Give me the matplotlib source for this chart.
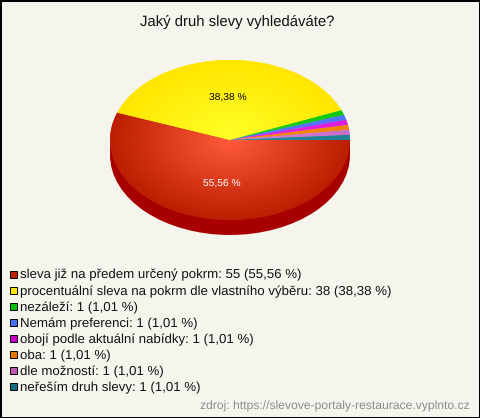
import numpy as np
from matplotlib import pyplot as plt
from matplotlib.colors import LinearSegmentedColormap
from matplotlib.patches import Rectangle, Wedge

plt.rcParams['font.family'] = ['Liberation Sans', 'DejaVu Sans']
plt.rcParams['text.hinting'] = 'no_hinting'

title = 'Jaký druh slevy vyhledáváte?'
source = 'zdroj: https://slevove-portaly-restaurace.vyplnto.cz'
labels = ['sleva již na předem určený pokrm', 'procentuální sleva na pokrm dle vlastního výběru',
          'nezáleží', 'Nemám preferenci', 'obojí podle aktuální nabídky', 'oba',
          'dle možností', 'neřeším druh slevy']
values = [55, 38, 1, 1, 1, 1, 1, 1]
shares = ['55,56', '38,38', '1,01', '1,01', '1,01', '1,01', '1,01', '1,01']

# barva uprostřed a na okraji výseče
inner = ['#ff5a3c', '#ffff28', '#1ed21e', '#5a78ff', '#e628e6', '#fa8c0a', '#d282d2', '#288c9b']
outer = ['#bb1e00', '#ffe600', '#0fc80f', '#5073ff', '#dc1edc', '#f08205', '#c86ec8', '#1e8296']
swatch = ['#be2000', '#ffe600', '#00be00', '#466ef0', '#c800c8', '#e67800', '#be5ab4', '#146e82']
side = '#a80000'
paper = '#f5f5ee'

W, H = 480, 418
cx, cy, rx, ry, depth = 230, 140, 120, 80, 15

fig = plt.figure(figsize=(W/100, H/100), dpi=100, facecolor=paper)
ax = fig.add_axes([0, 0, 1, 1])
limits = (-cx/rx, (W-cx)/rx), ((cy-H)/ry, cy/ry)


def popisek(pct):
    return f'{pct:.2f} %'.replace('.', ',') if pct > 5 else ''


# spodní hrana koláče
d = depth/ry
ax.add_patch(Wedge((0, -d), 1, 180, 360, color=side, lw=0, zorder=1))
ax.add_patch(Rectangle((-1, -d), 2, d, color=side, lw=0, zorder=1))

wedges, _, autotexts = ax.pie(values, startangle=0, counterclock=False, radius=1,
                              autopct=popisek, pctdistance=0.53,
                              textprops={'fontsize': 7.4})
autotexts[0].set_color('white')
autotexts[1].set_color('black')
for t in autotexts:
    t.set_zorder(5)

# popisky trochu posunout
px, py = autotexts[0].get_position()
autotexts[0].set_position((px + 3/rx, py - 2/ry))
px, py = autotexts[1].get_position()
autotexts[1].set_position((px - 1/rx, py - 1/ry))

# radiální přechod v každé výseči
xx, yy = np.meshgrid(np.linspace(-1, 1, 400), np.linspace(-1, 1, 400))
rr = np.clip(np.hypot(xx, yy), 0, 1)
for w, c1, c2 in zip(wedges, inner, outer):
    cmap = LinearSegmentedColormap.from_list('g', [c1, c2])
    w.set_facecolor(c2)
    w.set_linewidth(0)
    w.set_zorder(2)
    im = ax.imshow(rr, cmap=cmap, vmin=0, vmax=1, extent=(-1, 1, -1, 1),
                   origin='lower', aspect='auto', zorder=3)
    im.set_clip_path(w)

ax.set_aspect('auto')
ax.set_xlim(limits[0])
ax.set_ylim(limits[1])
ax.axis('off')

# texty a legenda v pixelech
top = fig.add_axes([0, 0, 1, 1], facecolor='none')
top.set_xlim(0, W)
top.set_ylim(H, 0)
top.axis('off')

top.text(237.5, 21.5, title, ha='center', va='center', fontsize=10.7, color='#111111')
for i, (lab, val, sh, col) in enumerate(zip(labels, values, shares, swatch)):
    y = 274 + i*16.1
    top.add_patch(Rectangle((9.5, y-3.5), 7, 7, facecolor=col, edgecolor='black', lw=0.7))
    top.text(20, y + 1.3, f'{lab}: {val} ({sh} %)', ha='left', va='center', fontsize=9.58, color='#111111')
top.text(470, 406.5, source, ha='right', va='center', fontsize=8.72, color='#8c8c8c')

fig.patch.set_edgecolor('black')
fig.patch.set_linewidth(1.0)
fig.savefig('out.png', dpi=100, facecolor=paper, edgecolor='black')
